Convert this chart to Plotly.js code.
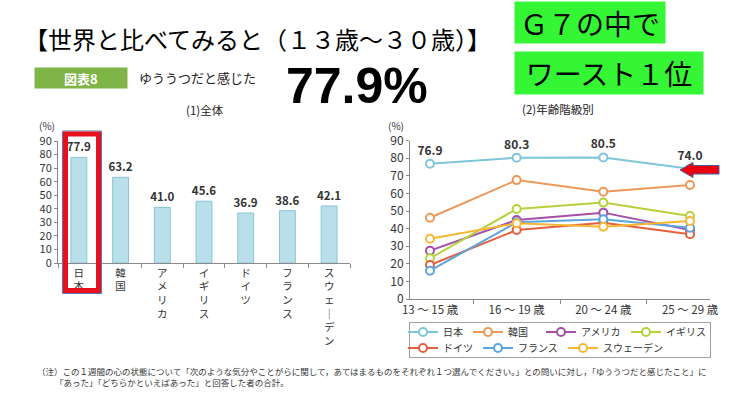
<!DOCTYPE html>
<html>
<head>
<meta charset="utf-8">
<script src="https://cdn.plot.ly/plotly-3.0.1.min.js"></script>
<style>html,body{margin:0;padding:0;background:#fff;}#chart{width:736px;height:395px;}</style>
</head>
<body>
<div id="chart"></div>
<script>
// ---- data ----
const categories = ['日本','韓国','アメリカ','イギリス','ドイツ','フランス','スウェーデン'];
const overallValues = [77.9, 63.2, 41.0, 45.6, 36.9, 38.6, 42.1];
const overallLabels = ['77.9','63.2','41.0','45.6','36.9','38.6','42.1'];
const ageGroups = ['13 ～ 15 歳','16 ～ 19 歳','20 ～ 24 歳','25 ～ 29 歳'];
const japan   = [76.9, 80.3, 80.5, 74.0];
const japanLabels = ['76.9','80.3','80.5','74.0'];
const korea   = [46.2, 67.6, 61.0, 64.8];
const usa     = [27.5, 44.9, 49.1, 39.2];
const uk      = [23.1, 51.2, 54.8, 47.2];
const germany = [19.3, 39.2, 43.4, 36.8];
const france  = [16.1, 43.6, 45.3, 40.5];
const sweden  = [34.3, 43.0, 41.1, 44.3];
const seriesNames = ['日本','韓国','アメリカ','イギリス','ドイツ','フランス','スウェーデン'];
const seriesValues = [japan, korea, usa, uk, germany, france, sweden];
const seriesColors = ['#7ec6d9','#ec9858','#a64fa6','#b4d23c','#e45f3e','#5ba4de','#f6b634'];
const legendRow = ['legend','legend','legend','legend','legend2','legend2','legend2'];
const legendColWidth = [20, 28, 40, 40, 30, 40, 60];

// ---- helpers (pixel -> paper) ----
const W = 736, H = 395;
const px = x => x / W;
const py = y => 1 - y / H;
const FONT = 'Noto Sans CJK JP, sans-serif';

const verticalLabels = categories.map(c => c.replace(/ー/g, '｜').split('').join('<br>'));

const lineTraces = seriesNames.map((name, i) => {
  const t = {
    type: 'scatter', mode: 'lines+markers', name: name,
    x: ageGroups, y: seriesValues[i], xaxis: 'x2', yaxis: 'y2',
    line: {color: seriesColors[i], width: 2},
    marker: {symbol: 'circle', size: 8, color: '#fff', line: {color: seriesColors[i], width: 2}},
    cliponaxis: false, legend: legendRow[i], legendrank: i + 1, legendwidth: legendColWidth[i]
  };
  if (i === 0) {
    t.mode = 'lines+markers+text';
    t.text = japanLabels;
    t.textposition = 'top center';
    t.texttemplate = '<b>%{text}</b>';
    t.textfont = {family: FONT, size: 12, color: '#333'};
  }
  return t;
});

const traces = [{
  type: 'bar', x: verticalLabels, y: overallValues, xaxis: 'x', yaxis: 'y',
  text: overallLabels, texttemplate: '<b>%{text}</b>', textposition: 'outside', cliponaxis: false,
  constraintext: 'none',
  textfont: {family: FONT, size: 11.5, color: '#333'},
  marker: {color: '#b9e0ea', line: {color: '#8ac5d7', width: 1}},
  showlegend: false, hoverinfo: 'skip'
}].concat(lineTraces.slice(1), [lineTraces[0]]);

const axisCommon = {
  showline: true, linecolor: '#8a8a8a', linewidth: 1,
  ticks: 'outside', tickcolor: '#8a8a8a', showgrid: false, zeroline: false,
  tickfont: {family: FONT, size: 12, color: '#333'}, fixedrange: true, automargin: false
};

const legendCommon = {
  orientation: 'h', xanchor: 'left', yanchor: 'middle',
  borderwidth: 0, bgcolor: 'rgba(0,0,0,0)', itemwidth: 30, traceorder: 'normal',
  font: {family: FONT, size: 10, color: '#333'}
};

const layout = {
  width: W, height: H,
  margin: {l: 0, r: 0, t: 0, b: 0},
  paper_bgcolor: '#fff', plot_bgcolor: '#fff',
  font: {family: FONT, color: '#333'},
  xaxis: Object.assign({}, axisCommon, {
    domain: [px(58), px(350)], anchor: 'y', type: 'category',
    tickson: 'boundaries', ticklen: 4, tickfont: {family: FONT, size: 10.5, color: '#333'}
  }),
  yaxis: Object.assign({}, axisCommon, {
    domain: [py(263), py(141)], anchor: 'x', range: [0, 90], dtick: 10, ticklen: 3,
    tickfont: {family: FONT, size: 11, color: '#333'}
  }),
  xaxis2: Object.assign({}, axisCommon, {
    domain: [px(410), px(710)], anchor: 'y2', type: 'category',
    tickson: 'boundaries', ticklen: 4, tickfont: {family: FONT, size: 11.5, color: '#333'}
  }),
  yaxis2: Object.assign({}, axisCommon, {
    domain: [py(299), py(140.7)], anchor: 'x2', range: [0, 90], dtick: 10, ticklen: 3
  }),
  bargap: 0.62,
  showlegend: true,
  legend: Object.assign({}, legendCommon, {x: px(403), y: py(332)}),
  legend2: Object.assign({}, legendCommon, {x: px(403), y: py(348)}),
  shapes: [
    {type: 'rect', xref: 'paper', yref: 'paper', x0: px(409.5), x1: px(710.5), y0: py(322.5), y1: py(357.5),
      line: {color: '#a0a0a0', width: 1}},
    {type: 'rect', xref: 'paper', yref: 'paper', x0: px(62.5), x1: px(101.5), y0: py(131), y1: py(293.5),
      line: {color: '#5a78b8', width: 1}},
    {type: 'rect', xref: 'paper', yref: 'paper', x0: px(65.5), x1: px(98.5), y0: py(134), y1: py(290.5),
      line: {color: '#e8101c', width: 5}},
    {type: 'path', xref: 'paper', yref: 'paper',
      path: 'M ' + px(680) + ' ' + py(170) + ' L ' + px(693) + ' ' + py(162.5) + ' L ' + px(693) + ' ' + py(165.5) +
            ' L ' + px(719) + ' ' + py(165.5) + ' L ' + px(719) + ' ' + py(174) + ' L ' + px(693) + ' ' + py(174) +
            ' L ' + px(693) + ' ' + py(177.5) + ' Z',
      fillcolor: '#e8000f', line: {color: '#4a5a9a', width: 1}}
  ],
  annotations: [
    {text: '【世界と比べてみると（１３歳～３０歳）】', x: px(257), y: py(39), xref: 'paper', yref: 'paper',
      xanchor: 'center', yanchor: 'middle', showarrow: false, font: {family: FONT, size: 24, color: '#000'}},
    {text: 'Ｇ７の中で', x: px(590), y: py(23), xref: 'paper', yref: 'paper', width: 150, height: 41,
      xanchor: 'center', yanchor: 'middle', showarrow: false, bgcolor: '#34f634', borderpad: 0,
      font: {family: FONT, size: 28, color: '#000'}},
    {text: 'ワースト１位', x: px(609), y: py(73), xref: 'paper', yref: 'paper', width: 188, height: 42,
      xanchor: 'center', yanchor: 'middle', showarrow: false, bgcolor: '#34f634', borderpad: 0,
      font: {family: FONT, size: 28, color: '#000'}},
    {text: '<b>図表8</b>', x: px(81), y: py(78), xref: 'paper', yref: 'paper', width: 92, height: 20,
      xanchor: 'center', yanchor: 'middle', showarrow: false, bgcolor: '#7fb447', borderpad: 0,
      font: {family: FONT, size: 13, color: '#fff'}},
    {text: 'ゆううつだと感じた', x: px(137), y: py(78), xref: 'paper', yref: 'paper',
      xanchor: 'left', yanchor: 'middle', showarrow: false, font: {family: FONT, size: 13, color: '#222'}},
    {text: '<b>77.9%</b>', x: px(357), y: py(86), xref: 'paper', yref: 'paper',
      xanchor: 'center', yanchor: 'middle', showarrow: false,
      font: {family: 'Liberation Sans, Arial, sans-serif', size: 50, color: '#000'}},
    {text: '(1)全体', x: px(205), y: py(110), xref: 'paper', yref: 'paper',
      xanchor: 'center', yanchor: 'middle', showarrow: false, font: {family: FONT, size: 11.5, color: '#222'}},
    {text: '(2)年齢階級別', x: px(520), y: py(109), xref: 'paper', yref: 'paper',
      xanchor: 'left', yanchor: 'middle', showarrow: false, font: {family: FONT, size: 11.5, color: '#222'}},
    {text: '(%)', x: px(47), y: py(126), xref: 'paper', yref: 'paper',
      xanchor: 'center', yanchor: 'middle', showarrow: false, font: {family: FONT, size: 10, color: '#333'}},
    {text: '(%)', x: px(396), y: py(125), xref: 'paper', yref: 'paper',
      xanchor: 'center', yanchor: 'middle', showarrow: false, font: {family: FONT, size: 10, color: '#333'}},
    {text: '（注）この１週間の心の状態について「次のような気分やことがらに関して，あてはまるものをそれぞれ１つ選んでください。」との問いに対し，「ゆううつだと感じたこと」に',
      x: px(35), y: py(371), xref: 'paper', yref: 'paper',
      xanchor: 'left', yanchor: 'middle', showarrow: false, font: {family: FONT, size: 8.5, color: '#333'}},
    {text: '「あった」「どちらかといえばあった」と回答した者の合計。',
      x: px(53), y: py(382), xref: 'paper', yref: 'paper',
      xanchor: 'left', yanchor: 'middle', showarrow: false, font: {family: FONT, size: 8.5, color: '#333'}}
  ]
};

Plotly.newPlot('chart', traces, layout, {staticPlot: true, displayModeBar: false});
</script>
</body>
</html>
